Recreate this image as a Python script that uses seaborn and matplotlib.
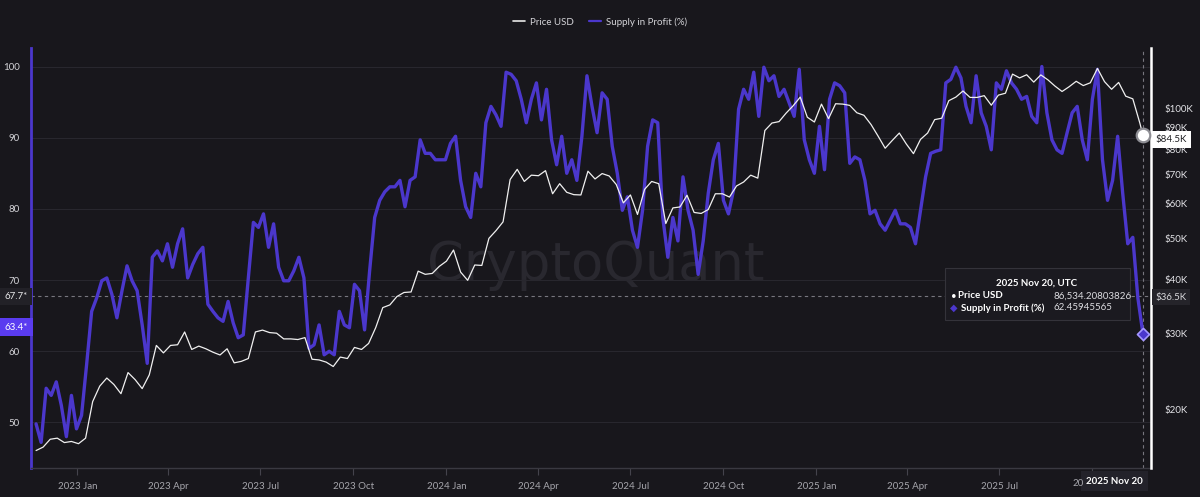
import pandas as pd
import matplotlib
matplotlib.use('Agg')
import matplotlib.pyplot as plt
import matplotlib.ticker as mticker
from matplotlib.lines import Line2D
from matplotlib.patches import FancyBboxPatch
import seaborn as sns

# ---- data ----
# BTC price, weekly (k USD), Mondays from 2022-11-21, last point 2025-11-20
price_k = [
    16.1, 16.4, 17.1, 17.2, 16.8, 16.9,
    16.7, 17.2, 20.9, 22.7, 23.7, 22.9, 21.8, 24.4, 23.5, 22.4, 24.1, 28.2, 27.1,
    28.2, 28.3, 30.3, 27.6, 28.1, 27.7, 27.2, 26.8, 27.7, 25.7, 25.9, 26.3, 30.3,
    30.6, 30.2, 30.1, 29.2, 29.2, 29.1, 29.4, 26.2, 26.1, 25.8, 25.2, 26.5, 26.3,
    27.9, 27.6, 28.5, 31.0, 34.5, 35.0, 36.6, 37.4, 37.5, 41.9, 41.2, 41.4, 43.0,
    44.2, 46.9, 41.7, 39.9, 43.3, 43.2, 49.9, 52.0, 54.5, 68.3, 72.1, 67.6, 69.9,
    69.7, 71.6, 63.3, 66.8, 63.8, 63.0, 62.9, 71.4, 68.5, 70.5, 69.6, 66.5, 60.3,
    62.9, 56.7, 64.8, 67.6, 66.8, 54.0, 58.7, 59.0, 62.8, 57.3, 57.0, 58.2, 63.3,
    63.3, 62.2, 66.0, 67.4, 69.9, 68.8, 88.7, 92.3, 93.0, 97.3, 101.2, 106.0, 95.2,
    92.8,
    102.1, 94.5, 102.3, 102.1, 101.4, 97.5, 96.2, 91.6, 86.1, 80.7, 84.1, 87.5,
    82.5, 78.4, 84.6, 87.5, 94.0, 94.7, 104.0, 106.0, 109.5, 105.8, 105.8, 106.8,
    101.5, 107.1, 108.2, 119.8, 117.4, 119.4, 114.8, 119.3, 116.2, 112.4, 109.2,
    112.0, 115.3, 112.7, 114.4, 123.5, 115.1, 110.5, 114.6, 106.5, 105.0, 92.2,
    86.534,
]
# Supply in profit (%), every 5 days from 2022-11-21 to 2025-11-20
supply_pct = [
    49.8, 47.2, 54.8, 53.8, 55.7, 52.4, 48.0, 53.8, 49.1, 51.0,
    58.1, 65.6, 67.5, 69.9, 70.3, 68.0, 64.7, 68.5, 72.0, 69.9,
    68.5, 63.7, 58.3, 73.2, 74.1, 72.7, 75.1, 71.8, 75.1, 77.2,
    70.3, 72.2, 73.7, 74.6, 66.6, 65.6, 64.7, 64.2, 67.0, 64.0,
    61.9, 62.3, 70.3, 78.1, 77.4, 79.3, 74.6, 77.9, 71.8, 69.9,
    69.9, 71.3, 73.2, 70.3, 60.4, 60.9, 63.7, 59.5, 60.0, 59.5,
    65.6, 63.7, 63.3, 69.4, 68.5, 63.0, 71.3, 78.8, 81.2, 82.4,
    83.1, 83.1, 84.0, 80.3, 84.0, 84.5, 89.7, 87.8, 87.8, 86.9,
    86.9, 86.9, 89.2, 90.2, 84.0, 80.3, 78.8, 85.0, 83.1, 92.1,
    94.4, 93.2, 91.6, 99.2, 98.9, 98.0, 95.4, 92.1, 95.4, 97.7,
    92.5, 96.8, 89.7, 86.2, 90.2, 85.0, 86.9, 84.0, 90.2, 98.7,
    94.4, 90.7, 96.3, 95.4, 88.8, 85.0, 79.8, 81.7, 77.0, 74.6,
    79.8, 88.8, 92.5, 92.1, 78.8, 73.2, 78.8, 75.5, 84.5, 79.8,
    77.0, 70.8, 75.5, 82.2, 86.9, 89.2, 81.2, 79.3, 82.6, 94.0,
    96.8, 95.4, 99.2, 93.0, 99.9, 98.0, 98.7, 95.8, 96.8, 94.9,
    93.0, 99.6, 89.7, 86.9, 85.0, 91.6, 85.5, 95.4, 97.7, 97.3,
    96.3, 86.4, 87.3, 86.9, 84.0, 79.3, 79.8, 77.9, 77.0, 78.4,
    79.8, 77.9, 77.9, 77.4, 75.1, 79.8, 84.5, 87.8, 88.1, 88.3,
    97.7, 98.2, 99.9, 98.4, 94.4, 92.1, 98.7, 93.5, 91.6, 88.3,
    97.7, 96.8, 99.4, 97.7, 96.8, 95.4, 95.8, 93.0, 92.1, 100.0,
    93.5, 89.7, 88.3, 87.8, 90.7, 93.5, 94.4, 89.7, 86.9, 95.4,
    99.6, 86.9, 81.2, 84.0, 90.2, 82.2, 75.1, 76.0, 67.5, 62.46,
]
price_dates = list(pd.date_range('2022-11-21', periods=len(price_k) - 1, freq='7D')) + [pd.Timestamp('2025-11-20')]
supply_dates = pd.date_range('2022-11-21', periods=len(supply_pct), freq='5D')

left_ticks = [50, 60, 70, 80, 90, 100]
right_ticks_k = [20, 30, 40, 50, 60, 70, 80, 90, 100]
x_tick_dates = ['2023-01-01', '2023-04-01', '2023-07-01', '2023-10-01',
                '2024-01-01', '2024-04-01', '2024-07-01', '2024-10-01',
                '2025-01-01', '2025-04-01', '2025-07-01', '2025-10-01']
# the last quarter label sits under the date badge; only "20" of it shows
x_tick_labels = ['2023 Jan', '2023 Apr', '2023 Jul', '2023 Oct',
                 '2024 Jan', '2024 Apr', '2024 Jul', '2024 Oct',
                 '2025 Jan', '2025 Apr', '2025 Jul', '']
cross_pct = 67.7
cross_price_label = '$36.5K'
last_price_label = '$84.5K'
side_pct = 63.4

df_p = pd.DataFrame({'date': price_dates, 'price': [v * 1000 for v in price_k]})
df_s = pd.DataFrame({'date': supply_dates, 'supply': supply_pct})

BG = '#18171c'
PURPLE = '#4b37cc'
GRID = '#28272e'
TXT = '#d4d4d8'

sns.set_style('dark', {'axes.facecolor': BG, 'figure.facecolor': BG})
plt.rcParams['font.family'] = ['Lato', 'DejaVu Sans']
FS = 7

fig = plt.figure(figsize=(12, 4.97), dpi=100)
W, H = 1200, 497
ax = fig.add_axes([31 / W, 1 - 468 / H, 1120 / W, 420 / H])
ax.set_facecolor(BG)

# watermark
ax.text(0.504, 0.483, 'CryptoQuant', transform=ax.transAxes, ha='center', va='center',
        fontsize=38, color='#29282f', family='DejaVu Sans', zorder=0.5)

sns.lineplot(data=df_s, x='date', y='supply', ax=ax, color=PURPLE, lw=2.4, zorder=2)
ax.set_ylim(43.6, 102.6)
ax.set_yticks(left_ticks)
ax.set_yticklabels([str(t) for t in left_ticks])
ax.grid(axis='y', color=GRID, lw=0.8)
ax.grid(axis='x', visible=False)
ax.set_xlabel('')
ax.set_ylabel('')

ax2 = ax.twinx()
sns.lineplot(data=df_p, x='date', y='price', ax=ax2, color='#f0f0f0', lw=0.9, zorder=3)
ax2.set_yscale('log')
ax2.set_ylim(14670, 137700)
ax2.yaxis.set_major_locator(mticker.FixedLocator([t * 1000 for t in right_ticks_k]))
ax2.yaxis.set_major_formatter(mticker.FixedFormatter([f'${t}K' for t in right_ticks_k]))
ax2.yaxis.set_minor_locator(mticker.NullLocator())
ax2.grid(False)
ax2.set_ylabel('')
ax2.set_xlabel('')

ax.set_xlim(pd.Timestamp('2022-11-16'), pd.Timestamp('2025-11-28'))
ax.set_xticks(pd.to_datetime(x_tick_dates))
ax.set_xticklabels(x_tick_labels)

# spines
for s in ['top', 'right']:
    ax.spines[s].set_visible(False)
for s in ['top', 'left', 'bottom']:
    ax2.spines[s].set_visible(False)
ax.spines['left'].set_color(PURPLE)
ax.spines['left'].set_linewidth(2)
ax.spines['bottom'].set_color('#3a3941')
ax.spines['bottom'].set_linewidth(1)
ax2.spines['right'].set_color('white')
ax2.spines['right'].set_linewidth(1.8)

ax.tick_params(axis='y', length=0, pad=8, labelsize=FS, labelcolor=TXT)
ax.tick_params(axis='x', length=5, width=0.8, color='#44434c', pad=5, labelsize=FS,
               labelcolor='#a6a6ac', bottom=True)
ax2.tick_params(axis='y', length=0, pad=10, labelsize=FS, labelcolor='#e2e2e6')

# crosshair
last_day = supply_dates[-1]
ax.axhline(cross_pct, color='#77767e', ls=(0, (3, 3)), lw=0.8, zorder=1.5)
ax.axvline(last_day, color='#77767e', ls=(0, (3, 3)), lw=0.8, zorder=1.5)

# end markers
ax.scatter([last_day], [supply_pct[-1]], marker='D', s=38, facecolor=PURPLE,
           edgecolor='#a597ff', linewidth=1.2, zorder=6)
ax2.scatter([price_dates[-1]], [df_p['price'].iloc[-1]], marker='o', s=95,
            facecolor='white', edgecolor='#8e8e94', linewidth=1.6, zorder=6)

# axis badges
ax.text(-0.003, cross_pct, f'{cross_pct}*', transform=ax.get_yaxis_transform(), ha='right',
        va='center', fontsize=FS, color='#e8e8ea', clip_on=False, zorder=7,
        bbox=dict(boxstyle='square,pad=0.45', fc='#222127', ec='none'))
ax.text(-0.003, side_pct, f'{side_pct}*', transform=ax.get_yaxis_transform(), ha='right',
        va='center', fontsize=FS, color='white', clip_on=False, zorder=7,
        bbox=dict(boxstyle='square,pad=0.5', fc='#5a3cf0', ec='none'))
ax2.text(1.004, 84500, last_price_label, transform=ax2.get_yaxis_transform(), ha='left',
         va='center', fontsize=FS, color='#1e1e22', clip_on=False, zorder=7,
         bbox=dict(boxstyle='square,pad=0.4', fc='white', ec='none'))
ax2.text(1.004, 36500, cross_price_label, transform=ax2.get_yaxis_transform(), ha='left',
         va='center', fontsize=FS, color='#d8d8dc', clip_on=False, zorder=7,
         bbox=dict(boxstyle='square,pad=0.4', fc='#25242a', ec='none'))
fig.text(1078 / W, 1 - 483 / H, '20', ha='center', va='center', fontsize=FS, color='#a6a6ac')
ax2.text(last_day, -0.031, '2025 Nov 20', transform=ax2.get_xaxis_transform(), ha='right',
         va='center', fontsize=FS, color='white', fontweight='bold', clip_on=False, zorder=7,
         bbox=dict(boxstyle='square,pad=0.55', fc='#23222a', ec='none'))

# tooltip
box = FancyBboxPatch((945 / W, 1 - 320 / H), 185 / W, 52 / H, boxstyle='square,pad=0',
                     transform=fig.transFigure, fc='#1b1a20', ec='#34333a', lw=0.8, zorder=8)
fig.add_artist(box)
fig.text(1037 / W, 1 - 283 / H, '2025 Nov 20, UTC', ha='center', va='center', fontsize=FS,
         color='white', fontweight='bold', zorder=9)
fig.text(951 / W, 1 - 296 / H, '•', ha='left', va='center', fontsize=FS, color='white', zorder=9)
fig.text(958 / W, 1 - 296 / H, 'Price USD', ha='left', va='center', fontsize=FS,
         color='white', fontweight='bold', zorder=9)
fig.text(1053 / W, 1 - 296 / H, '86,534.20803826', ha='left', va='center', fontsize=FS,
         color='#dcdce0', zorder=9)
fig.text(950 / W, 1 - 308 / H, '◆', ha='left', va='center', fontsize=FS, color=PURPLE,
         family=['DejaVu Sans'], zorder=9)
fig.text(961 / W, 1 - 308 / H, 'Supply in Profit (%)', ha='left', va='center', fontsize=FS,
         color='white', fontweight='bold', zorder=9)
fig.text(1053 / W, 1 - 308 / H, '62.45945565', ha='left', va='center', fontsize=FS,
         color='#dcdce0', zorder=9)

# legend
handles = [Line2D([], [], color='#e8e8e8', lw=1.2), Line2D([], [], color=PURPLE, lw=1.6)]
fig.legend(handles, ['Price USD', 'Supply in Profit (%)'], loc='center',
           bbox_to_anchor=(0.5, 1 - 22 / H), ncol=2, frameon=False, fontsize=FS,
           labelcolor=TXT, handlelength=1.2, handletextpad=0.5, columnspacing=1.6)

fig.savefig('out.png', dpi=100, facecolor=BG)
